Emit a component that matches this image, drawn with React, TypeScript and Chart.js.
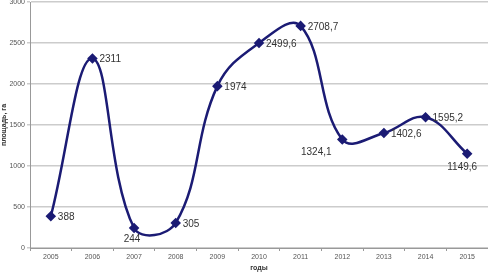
import React, { useEffect, useRef } from "react";
import { Chart, registerables } from "chart.js";

Chart.register(...registerables);

const years = ["2005", "2006", "2007", "2008", "2009", "2010", "2011", "2012", "2013", "2014", "2015"];
const area = [388, 2311, 244, 305, 1974, 2499.6, 2708.7, 1324.1, 1402.6, 1595.2, 1149.6];
const yTicks = [0, 500, 1000, 1500, 2000, 2500, 3000];
const xTitle = "годы";
const yTitle = "площадь, га";

const below = new Set([2, 7, 10]);

const fmt = (v: number) => String(v).replace(".", ",");

const labelPlugin = {
  id: "valueLabels",
  afterDatasetsDraw(chart: any) {
    const ctx = chart.ctx;
    const meta = chart.getDatasetMeta(0);
    ctx.save();
    ctx.font = "10px 'Liberation Sans', Arial, sans-serif";
    ctx.fillStyle = "#333";
    meta.data.forEach((pt: any, i: number) => {
      const txt = fmt(area[i]);
      if (below.has(i)) {
        ctx.textAlign = "center";
        ctx.textBaseline = "top";
        const dx = i === 7 ? -26 : i === 10 ? -5 : -2;
        const dy = i === 10 ? 9 : i === 7 ? 8 : 6;
        ctx.fillText(txt, pt.x + dx, pt.y + dy);
      } else {
        ctx.textAlign = "left";
        ctx.textBaseline = "middle";
        ctx.fillText(txt, pt.x + 7, pt.y + 1);
      }
    });
    ctx.restore();
  },
};

export default function App() {
  const ref = useRef<HTMLCanvasElement>(null);
  useEffect(() => {
    document.body.style.margin = "0";
    const chart = new Chart(ref.current!, {
      type: "line",
      data: {
        labels: years,
        datasets: [
          {
            data: area,
            borderColor: "#1b1b74",
            backgroundColor: "#1b1b74",
            borderWidth: 2.5,
            tension: 0.4,
            pointStyle: "rectRot",
            pointRadius: 3.5,
            pointHoverRadius: 3.5,
            clip: false as any,
          },
        ],
      },
      options: {
        animation: false,
        responsive: false,
        maintainAspectRatio: false,
        layout: { autoPadding: false, padding: { top: 2, right: 0, left: 0, bottom: 0 } },
        plugins: { legend: { display: false }, tooltip: { enabled: false } },
        scales: {
          x: {
            offset: true,
            grid: { display: true, drawOnChartArea: false, drawTicks: true, tickLength: 3, offset: true, color: "#999" },
            border: { color: "#999", width: 1 },
            ticks: { color: "#555", font: { size: 7, family: "'Liberation Sans', Arial" }, padding: 2, maxRotation: 0 },
            title: { display: true, text: xTitle, color: "#333", font: { size: 7, weight: "bold", family: "'Liberation Sans', Arial" }, padding: 0 },
            afterFit: (s: any) => { s.height = 24; s.paddingLeft = 0; s.paddingRight = 0; },
          },
          y: {
            min: 0,
            max: 3000,
            afterBuildTicks: (s: any) => { s.ticks = yTicks.map((v) => ({ value: v })); },
            grid: { color: "#cccccc", lineWidth: 1.5, tickLength: 3 },
            border: { color: "#999", width: 1 },
            ticks: { color: "#555", font: { size: 7, family: "'Liberation Sans', Arial" }, padding: 2, callback: (v: any) => String(v) },
            title: { display: true, text: yTitle, color: "#333", font: { size: 7, weight: "bold", family: "'Liberation Sans', Arial" }, padding: 0 },
            afterFit: (s: any) => { s.width = 30; s.paddingTop = 0; s.paddingBottom = 0; },
          },
        },
      },
      plugins: [labelPlugin],
    });
    return () => chart.destroy();
  }, []);
  return <canvas ref={ref} width={488} height={272} style={{ display: "block" }} />;
}
